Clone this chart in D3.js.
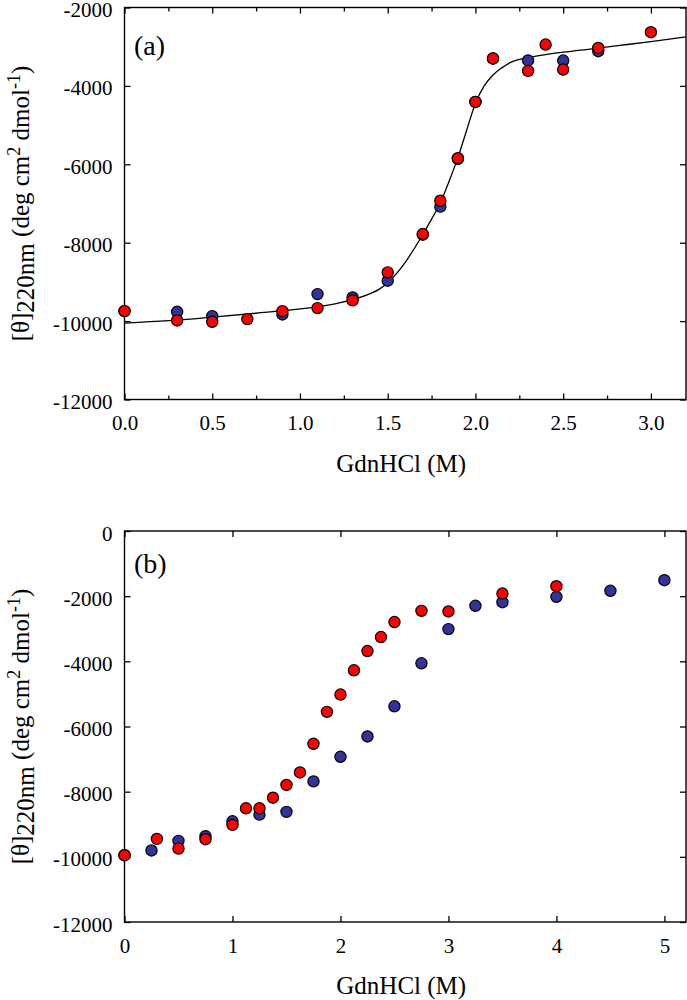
<!DOCTYPE html>
<html>
<head>
<meta charset="utf-8">
<script src="https://cdn.jsdelivr.net/npm/d3@7"></script>
<style>
  body { margin: 0; background: #fff; }
  svg { display: block; }
  text { font-family: "Liberation Serif", "Times New Roman", serif; fill: #000; }
</style>
</head>
<body>
<svg width="687" height="1000"></svg>
<script>
// panel (a) measurements
const aRedX = [0, 0.3, 0.5, 0.7, 0.9, 1.1, 1.3, 1.5, 1.7, 1.8, 1.9, 2.0, 2.1, 2.3, 2.4, 2.5, 2.7, 3.0];
const aRedY = [-9745, -9983, -10017, -9949, -9745, -9668, -9472, -8757, -7779, -6930, -5845, -4409, -3302, -3617, -2945, -3583, -3030, -2630];
const aBlueX = [0, 0.3, 0.5, 0.9, 1.1, 1.3, 1.5, 1.7, 1.8, 1.9, 2.0, 2.1, 2.3, 2.5, 2.7];
const aBlueY = [-9745, -9762, -9872, -9830, -9311, -9396, -8970, -7796, -7080, -5864, -4409, -3300, -3350, -3353, -3115];

// fitted curve of panel (a)
const fitX = [0, 0.25, 0.5, 0.75, 1.0, 1.2, 1.4, 1.45, 1.5, 1.55, 1.6, 1.65, 1.7, 1.75, 1.8, 1.85, 1.9, 1.95, 2.0, 2.05, 2.1, 2.15, 2.2, 2.3, 2.4, 2.6, 2.8, 3.0, 3.2];
const fitY = [-10050, -9990, -9900, -9800, -9690, -9560, -9300, -9190, -9020, -8790, -8500, -8160, -7790, -7400, -6980, -6430, -5830, -5130, -4440, -4000, -3720, -3540, -3400, -3280, -3200, -3090, -2980, -2870, -2750];

// panel (b) measurements
const bRedX = [0, 0.3, 0.5, 0.75, 1.0, 1.125, 1.25, 1.375, 1.5, 1.625, 1.75, 1.875, 2.0, 2.125, 2.25, 2.375, 2.5, 2.75, 3.0, 3.5, 4.0];
const bRedY = [-9950, -9450, -9745, -9460, -9020, -8510, -8510, -8185, -7795, -7410, -6530, -5550, -5020, -4275, -3685, -3255, -2795, -2450, -2470, -1920, -1695];
const bBlueX = [0, 0.25, 0.5, 0.75, 1.0, 1.25, 1.5, 1.75, 2.0, 2.25, 2.5, 2.75, 3.0, 3.25, 3.5, 4.0, 4.5, 5.0];
const bBlueY = [-9950, -9805, -9510, -9365, -8910, -8705, -8620, -7685, -6930, -6305, -5380, -4060, -3010, -2295, -2185, -2020, -1835, -1510];

// axes ticks and labels
const aXTicks = [0, 0.5, 1.0, 1.5, 2.0, 2.5, 3.0];
const aXLabels = ["0.0", "0.5", "1.0", "1.5", "2.0", "2.5", "3.0"];
const aXMinor = [0.25, 0.75, 1.25, 1.75, 2.25, 2.75];
const aYTicks = [-2000, -4000, -6000, -8000, -10000, -12000];
const aYLabels = ["-2000", "-4000", "-6000", "-8000", "-10000", "-12000"];
const bXTicks = [0, 1, 2, 3, 4, 5];
const bXLabels = ["0", "1", "2", "3", "4", "5"];
const bYTicks = [0, -2000, -4000, -6000, -8000, -10000, -12000];
const bYLabels = ["0", "-2000", "-4000", "-6000", "-8000", "-10000", "-12000"];

const svg = d3.select('svg');
const left = 124.5, right = 686;
const serif = '"Liberation Serif", "Times New Roman", serif';

function drawPanel(p) {
  const x = d3.scaleLinear().domain(p.xDomain).range([left, right]);
  const y = d3.scaleLinear().domain(p.yDomain).range([p.bottom, p.top]);
  const g = svg.append('g');

  // ticks, all pointing inwards
  g.append('g').attr('transform', `translate(0,${p.bottom})`)
    .call(d3.axisBottom(x).tickValues(p.xTicks).tickSizeInner(-6).tickSizeOuter(0).tickPadding(16)
      .tickFormat((d, i) => p.xLabels[i]));
  g.append('g').attr('transform', `translate(0,${p.top})`)
    .call(d3.axisTop(x).tickValues(p.xTicks).tickSizeInner(-6).tickSizeOuter(0).tickFormat(''));
  if (p.xMinor) {
    g.append('g').attr('transform', `translate(0,${p.bottom})`)
      .call(d3.axisBottom(x).tickValues(p.xMinor).tickSizeInner(-4).tickSizeOuter(0).tickFormat(''));
    g.append('g').attr('transform', `translate(0,${p.top})`)
      .call(d3.axisTop(x).tickValues(p.xMinor).tickSizeInner(-4).tickSizeOuter(0).tickFormat(''));
  }
  const yAxis = g.append('g').attr('transform', `translate(${left},0)`)
    .call(d3.axisLeft(y).tickValues(p.yTicks).tickSizeInner(-6).tickSizeOuter(0).tickPadding(12)
      .tickFormat((d, i) => p.yLabels[i]));
  g.append('g').attr('transform', `translate(${right},0)`)
    .call(d3.axisRight(y).tickValues(p.yTicks).tickSizeInner(-6).tickSizeOuter(0).tickFormat(''));

  g.selectAll('.domain').remove();
  g.selectAll('g').attr('font-family', serif).attr('font-size', 21);
  g.selectAll('.tick line').attr('stroke', '#000').attr('stroke-width', 1.3);
  g.selectAll('.tick text')
    .style('font-family', serif)
    .style('font-size', '21px')
    .attr('fill', '#000');
  yAxis.selectAll('.tick text').attr('dy', '0.43em');

  g.append('rect')
    .attr('x', left).attr('y', p.top)
    .attr('width', right - left).attr('height', p.bottom - p.top)
    .attr('fill', 'none').attr('stroke', '#000').attr('stroke-width', 1.4);

  if (p.fitX) {
    const line = d3.line()
      .x(d => x(d[0]))
      .y(d => y(d[1]))
      .curve(d3.curveMonotoneX);
    g.append('path')
      .attr('d', line(d3.zip(p.fitX, p.fitY)))
      .attr('fill', 'none')
      .attr('stroke', '#000')
      .attr('stroke-width', 1.3);
  }

  const dots = (xs, ys, color) => {
    g.append('g').selectAll('circle')
      .data(d3.zip(xs, ys))
      .enter().append('circle')
        .attr('cx', d => x(d[0]))
        .attr('cy', d => y(d[1]))
        .attr('r', 5.6)
        .attr('fill', color)
        .attr('stroke', '#000')
        .attr('stroke-width', 1.2);
  };
  dots(p.blueX, p.blueY, '#32329a');
  dots(p.redX, p.redY, '#ff0000');

  g.append('text')
    .attr('x', 134).attr('y', p.top + p.tagDy)
    .style('font-size', '28px')
    .text(p.tag);

  g.append('text')
    .attr('x', (left + right) / 2 - 4).attr('y', p.bottom + 72)
    .attr('text-anchor', 'middle')
    .style('font-size', '25px')
    .text('GdnHCl (M)');

  const yl = g.append('text')
    .attr('transform', `translate(29,${(p.top + p.bottom) / 2}) rotate(-90)`)
    .attr('text-anchor', 'middle')
    .style('font-size', '25px');
  yl.append('tspan').text('[\u03b8]');
  yl.append('tspan').attr('dy', 5).text('220nm');
  yl.append('tspan').attr('dy', -5).text(' (deg cm');
  yl.append('tspan').attr('dy', -9).style('font-size', '18px').text('2');
  yl.append('tspan').attr('dy', 9).text(' dmol');
  yl.append('tspan').attr('dy', -9).style('font-size', '18px').text('-1');
  yl.append('tspan').attr('dy', 9).text(')');
}

drawPanel({
  top: 7.5, bottom: 399.5, xDomain: [0, 3.2], yDomain: [-12000, -2000],
  xTicks: aXTicks, xLabels: aXLabels, xMinor: aXMinor, yTicks: aYTicks, yLabels: aYLabels,
  redX: aRedX, redY: aRedY, blueX: aBlueX, blueY: aBlueY, fitX: fitX, fitY: fitY,
  tag: '(a)', tagDy: 47
});

drawPanel({
  top: 531, bottom: 922, xDomain: [0, 5.2], yDomain: [-12000, 0],
  xTicks: bXTicks, xLabels: bXLabels, yTicks: bYTicks, yLabels: bYLabels,
  redX: bRedX, redY: bRedY, blueX: bBlueX, blueY: bBlueY,
  tag: '(b)', tagDy: 42
});
</script>
</body>
</html>
